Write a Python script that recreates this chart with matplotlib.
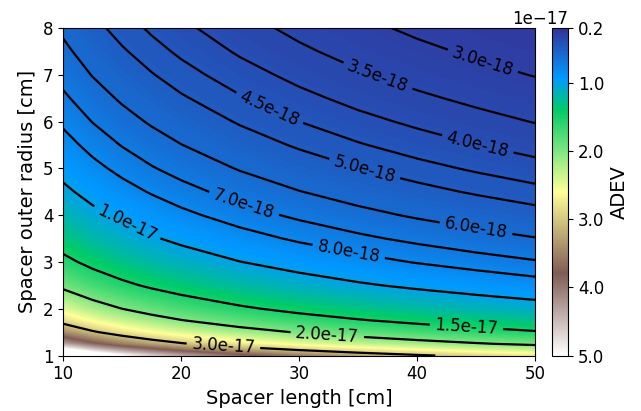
import numpy as np
import matplotlib
matplotlib.use("Agg")
import matplotlib.pyplot as plt
from matplotlib import colors as mcolors
from matplotlib import cm

# ADEV, in units of 1e-18
spacer_length = [10, 12.5, 15, 17.5, 20, 25, 30, 35, 40, 45, 50]   # cm
outer_radius = [1.0, 1.25, 1.5, 1.75, 2.0, 2.5, 3.0, 3.5, 4.0,
                4.5, 5.0, 5.5, 6.0, 6.5, 7.0, 7.5, 8.0]              # cm
adev_e18 = [
    [61.12, 54.67, 49.91, 46.20, 43.21, 38.65, 35.29, 32.67, 30.55, 28.81, 27.33],
    [43.12, 38.57, 35.21, 32.59, 30.49, 27.27, 24.89, 23.05, 21.56, 20.32, 19.28],
    [34.18, 30.57, 27.91, 25.83, 24.17, 21.61, 19.73, 18.27, 17.09, 16.11, 15.28],
    [28.49, 25.48, 23.27, 21.54, 20.15, 18.02, 16.45, 15.23, 14.24, 13.43, 12.74],
    [24.50, 21.91, 20.00, 18.52, 17.32, 15.49, 14.14, 13.10, 12.25, 11.55, 10.96],
    [19.22, 17.19, 15.69, 14.53, 13.59, 12.15, 11.10, 10.27, 9.61, 9.06, 8.59],
    [15.85, 14.18, 12.94, 11.98, 11.21, 10.03, 9.15, 8.47, 7.92, 7.47, 7.09],
    [13.51, 12.08, 11.03, 10.21, 9.55, 8.54, 7.80, 7.22, 6.75, 6.36, 6.04],
    [11.77, 10.53, 9.61, 8.90, 8.32, 7.44, 6.80, 6.29, 5.88, 5.55, 5.26],
    [10.44, 9.33, 8.52, 7.89, 7.38, 6.60, 6.03, 5.58, 5.22, 4.92, 4.67],
    [9.37, 8.38, 7.65, 7.08, 6.63, 5.93, 5.41, 5.01, 4.69, 4.42, 4.19],
    [8.51, 7.61, 6.95, 6.43, 6.02, 5.38, 4.91, 4.55, 4.25, 4.01, 3.80],
    [7.79, 6.97, 6.36, 5.89, 5.51, 4.93, 4.50, 4.16, 3.90, 3.67, 3.48],
    [7.19, 6.43, 5.87, 5.43, 5.08, 4.55, 4.15, 3.84, 3.59, 3.39, 3.21],
    [6.67, 5.96, 5.44, 5.04, 4.71, 4.22, 3.85, 3.56, 3.33, 3.14, 2.98],
    [6.22, 5.56, 5.08, 4.70, 4.40, 3.93, 3.59, 3.32, 3.11, 2.93, 2.78],
    [5.83, 5.21, 4.76, 4.41, 4.12, 3.69, 3.37, 3.12, 2.91, 2.75, 2.61],
]

line_levels = [3.0e-18, 3.5e-18, 4.0e-18, 4.5e-18, 5.0e-18, 6.0e-18,
               7.0e-18, 8.0e-18, 1.0e-17, 1.5e-17, 2.0e-17, 3.0e-17]
cbar_ticks = [0.2e-17, 1.0e-17, 2.0e-17, 3.0e-17, 4.0e-17, 5.0e-17]
vmin, vmax = 0.2e-17, 5.0e-17

# where the inline labels sit (length, radius)
label_spots = [(45.6, 7.31), (36.7, 6.99), (45.2, 5.57), (27.5, 6.28),
               (35.6, 5.03), (45.0, 3.71), (25.3, 4.21), (34.2, 3.21),
               (15.4, 3.82), (44.2, 1.64), (32.4, 1.45), (23.6, 1.23)]

L, R = np.meshgrid(spacer_length, outer_radius)
adev = np.array(adev_e18) * 1e-18
log_adev = np.log10(adev)  # contour in log space, smoother between grid points

cmap = plt.get_cmap("terrain")
norm = mcolors.Normalize(vmin=vmin, vmax=vmax)
fill_levels = np.linspace(vmin, vmax, 300)
mids = 0.5 * (fill_levels[1:] + fill_levels[:-1])
fill_colors = [cmap(norm(v)) for v in mids]

fig = plt.figure(figsize=(6.41, 4.11), dpi=100)
ax = fig.add_axes([0.0983, 0.135, 0.7363, 0.797])
cax = fig.add_axes([0.8607, 0.135, 0.026, 0.797])

ax.contourf(L, R, log_adev, levels=np.log10(fill_levels), colors=fill_colors)
cs = ax.contour(L, R, log_adev, levels=np.log10(line_levels),
                colors="black", linewidths=1.6, linestyles="solid")
ax.clabel(cs, fmt=lambda v: "%.1e" % (10 ** v), fontsize=12,
          manual=label_spots, inline=True)

ax.set_xlim(10, 50)
ax.set_ylim(1, 8)
ax.set_xticks([10, 20, 30, 40, 50])
ax.set_yticks(range(1, 9))
ax.tick_params(labelsize=12)
ax.set_xlabel("Spacer length [cm]", fontsize=14)
ax.set_ylabel("Spacer outer radius [cm]", fontsize=14)

sm = cm.ScalarMappable(norm=norm, cmap=cmap)
cbar = fig.colorbar(sm, cax=cax, ticks=cbar_ticks)
cbar.ax.invert_yaxis()
cbar.ax.tick_params(labelsize=12)
cbar.ax.yaxis.get_offset_text().set_fontsize(12)
cbar.set_label("ADEV", fontsize=14)

fig.savefig("out.png", dpi=100)
